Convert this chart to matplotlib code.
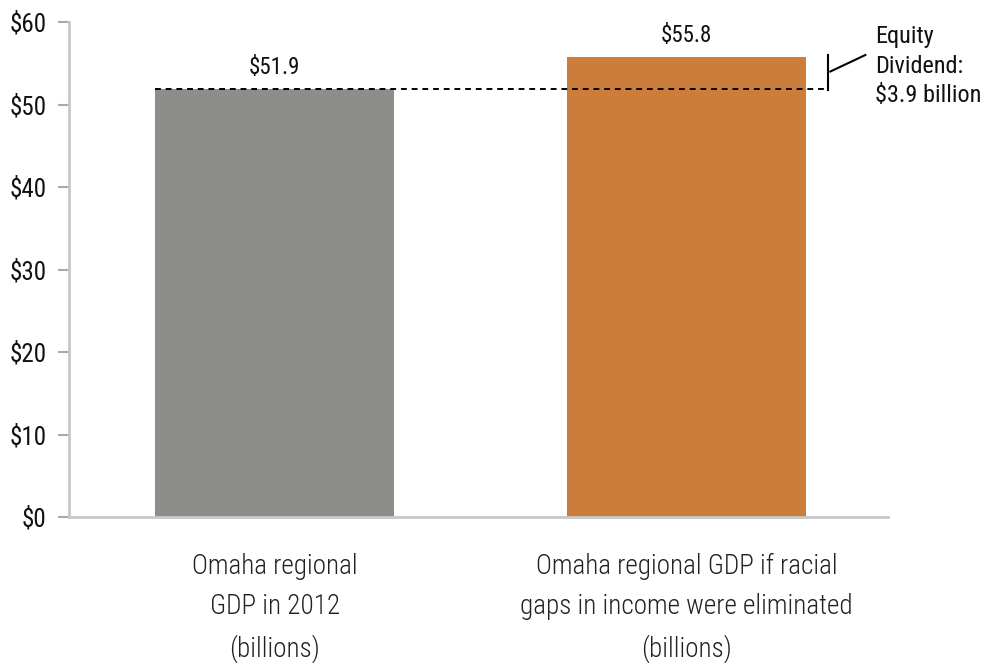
import matplotlib
matplotlib.use("Agg")
import matplotlib.pyplot as plt
from matplotlib import font_manager as fm

categories = ["Omaha regional\nGDP in 2012\n(billions)",
              "Omaha regional GDP if racial\ngaps in income were eliminated\n(billions)"]
values = [51.9, 55.8]
value_labels = ["$51.9", "$55.8"]
yticks = [0, 10, 20, 30, 40, 50, 60]
ytick_labels = ["$0", "$10", "$20", "$30", "$40", "$50", "$60"]
dividend_label = "Equity\nDividend:\n$3.9 billion"
colors = ["#8d8e89", "#cc7d3c"]

names = {f.name for f in fm.fontManager.ttflist}
cands = ["Roboto Condensed", "Liberation Sans Narrow", "Roboto"]
fam = next((c for c in cands if c in names), "DejaVu Sans")
plt.rcParams['font.family'] = [fam, "DejaVu Sans"]

fig = plt.figure(figsize=(9.88, 6.63), dpi=100)
ax = fig.add_axes([69/988, 1-517/663, (888-69)/988, (517-22)/663])
x = [0, 1]
ax.bar(x, values, width=0.58, color=colors, zorder=2)
ax.set_xlim(-0.5, 1.49)
ax.set_ylim(0, 60)
ax.set_yticks(yticks)
ax.set_yticklabels(ytick_labels, fontsize=18, color="#111111")
ax.set_xticks(x)
ax.set_xticklabels(categories, fontsize=19.5, linespacing=1.62, color="#222222", fontweight="light")
ax.tick_params(axis='x', length=0, pad=26)
ax.tick_params(axis='y', length=8, width=1.5, color="#aaaaaa", pad=8)
for s in ["top", "right"]:
    ax.spines[s].set_visible(False)
ax.spines["left"].set_color("#c8c8c8")
ax.spines["bottom"].set_color("#c8c8c8")
ax.spines["left"].set_linewidth(2)
ax.spines["bottom"].set_linewidth(2)

for xi, v, lab in zip(x, values, value_labels):
    ax.text(xi, v + 1.2, lab, ha="center", va="bottom", fontsize=16.5, color="#111111")

xr = 1.345
ax.plot([x[0] - 0.29, xr], [values[0], values[0]], ls=(0, (3, 2.5)), color="black", lw=1.4, zorder=3)
ax.plot([xr, xr], [values[0] - 0.2, values[1] + 0.2], color="black", lw=1.5, clip_on=False)
ax.plot([xr + 0.005, xr + 0.09], [values[0] + 2.1, values[1] + 0.2], color="black", lw=1.5, clip_on=False)
ax.text(xr + 0.113, (values[0] + values[1]) / 2 + 0.8, dividend_label, ha="left", va="center",
        fontsize=17.5, linespacing=1.38, color="#111111", clip_on=False)

fig.savefig("out.png", dpi=100)
